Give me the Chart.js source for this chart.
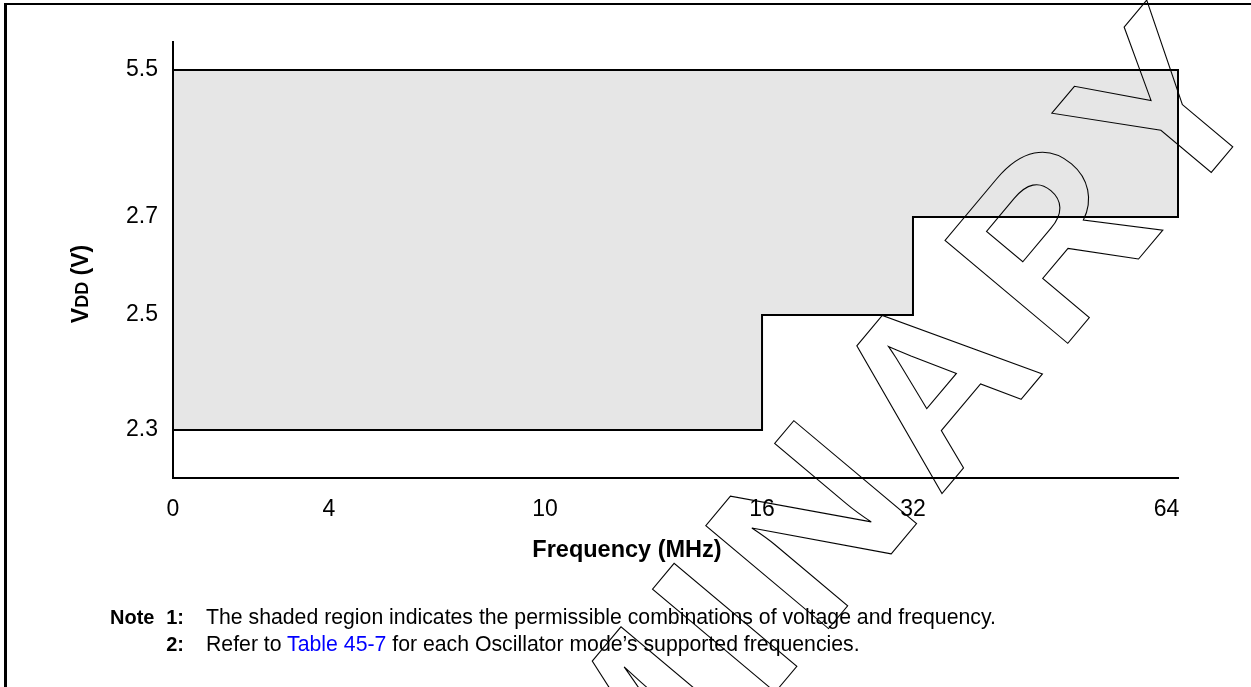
<!DOCTYPE html>
<html><head><meta charset="utf-8">
<script src="https://cdn.jsdelivr.net/npm/chart.js@4.4.1/dist/chart.umd.min.js"></script>
<style>
html,body{margin:0;padding:0;background:#fff;}
#wrap{position:relative;width:1251px;height:687px;overflow:hidden;background:#fff;}
#c{position:absolute;left:0;top:0;}
#frame{position:absolute;left:4px;top:3px;width:1300px;height:800px;border-left:3px solid #000;border-top:2px solid #000;}
.note{position:absolute;font-family:"Liberation Sans",Arial,sans-serif;font-size:20px;line-height:27px;color:#000;white-space:nowrap;}
.txt{font-size:21.25px}
.b{font-weight:bold}
.lnk{color:#0000ff}
#wm{position:absolute;left:0;top:0;pointer-events:none;}
</style></head><body>
<div id="wrap">
<canvas id="c" width="1251" height="687"></canvas>
<div id="frame"></div>
<div class="note b" style="left:110px;top:604px">Note</div>
<div class="note b" style="left:150px;width:34px;text-align:right;top:604px">1:</div>
<div class="note txt" style="left:206px;top:604px">The shaded region indicates the permissible combinations of voltage and frequency.</div>
<div class="note b" style="left:150px;width:34px;text-align:right;top:631px">2:</div>
<div class="note txt" style="left:206px;top:631px">Refer to <span class="lnk">Table 45-7</span> for each Oscillator mode’s supported frequencies.</div>
<svg id="wm" width="1251" height="687"><text transform="translate(130,1461) rotate(-50)" font-family="Liberation Sans, Arial, sans-serif" font-weight="bold" font-size="233" letter-spacing="18" fill="none" stroke="#000" stroke-width="1.1">PRELIMINARY</text></svg>
</div>
<script>
// ---- data ----
const freqTicks = [0, 4, 10, 16, 32, 64];      // MHz tick labels
const vddTicks  = [2.3, 2.5, 2.7, 5.5];        // V tick labels
const bandEdges = [0, 16, 32, 64];             // frequency band edges (MHz)
const vddMin    = [2.3, 2.5, 2.7];             // minimum VDD per band (V)
const vddMax    = 5.5;                         // maximum VDD (V)

// ---- piecewise (schematic) scale ----
class PiecewiseScale extends Chart.LinearScale {
  _frac(v) {
    const b = this.options.breaks;
    let i = 0;
    while (i < b.length - 2 && v > b[i + 1][0]) i++;
    const [v0, f0] = b[i], [v1, f1] = b[i + 1];
    return f0 + (v - v0) / (v1 - v0) * (f1 - f0);
  }
  getPixelForValue(value) {
    if (value === null || isNaN(value)) return NaN;
    return this.getPixelForDecimal(this._frac(value));
  }
  getValueForPixel(pixel) {
    const d = this.getDecimalForPixel(pixel);
    const b = this.options.breaks;
    let i = 0;
    while (i < b.length - 2 && d > b[i + 1][1]) i++;
    const [v0, f0] = b[i], [v1, f1] = b[i + 1];
    return v0 + (d - f0) / (f1 - f0) * (v1 - v0);
  }
}
PiecewiseScale.id = 'piecewise';
PiecewiseScale.defaults = Chart.LinearScale.defaults;
Chart.register(PiecewiseScale);

// ---- build region polygon from data ----
const region = [{x: bandEdges[0], y: vddMax}, {x: bandEdges[bandEdges.length - 1], y: vddMax}];
for (let i = vddMin.length - 1; i >= 0; i--) {
  region.push({x: bandEdges[i + 1], y: vddMin[i]});
  region.push({x: bandEdges[i], y: vddMin[i]});
}
region.push({x: bandEdges[0], y: vddMax});

const tickFont = {family: '"Liberation Sans", Arial, sans-serif', size: 23};

const titles = {
  id: 'titles',
  afterDraw(chart) {
    const ctx = chart.ctx;
    ctx.save();
    ctx.fillStyle = '#000';
    ctx.font = 'bold 23.5px "Liberation Sans", Arial, sans-serif';
    ctx.textAlign = 'center';
    ctx.textBaseline = 'alphabetic';
    ctx.fillText('Frequency (MHz)', 627, 557);
    // Y title with subscript
    ctx.translate(88, 284);
    ctx.rotate(-Math.PI / 2);
    const segs = [['V', 'bold 23px "Liberation Sans", Arial, sans-serif'],
                  ['DD', 'bold 18px "Liberation Sans", Arial, sans-serif'],
                  [' (V)', 'bold 23px "Liberation Sans", Arial, sans-serif']];
    let total = 0;
    segs.forEach(s => { ctx.font = s[1]; total += ctx.measureText(s[0]).width; });
    let x = -total / 2;
    ctx.textAlign = 'left';
    segs.forEach(s => { ctx.font = s[1]; ctx.fillText(s[0], x, 0); x += ctx.measureText(s[0]).width; });
    ctx.restore();
  }
};

new Chart(document.getElementById('c'), {
  type: 'line',
  data: {
    datasets: [{
      data: region,
      fill: 'shape',
      backgroundColor: '#e6e6e6',
      borderColor: '#000',
      borderWidth: 2,
      borderJoinStyle: 'miter',
      pointRadius: 0,
      tension: 0,
      clip: false
    }]
  },
  options: {
    responsive: false,
    animation: false,
    events: [],
    layout: {padding: {left: 0, top: 42, right: 73, bottom: 0}},
    plugins: {legend: {display: false}, tooltip: {enabled: false}, title: {display: false}},
    scales: {
      x: {
        type: 'piecewise',
        min: 0, max: 64,
        breaks: [[0, 0], [4, 0.1552], [10, 0.3701], [16, 0.5861], [32, 0.7363], [64, 1]],
        afterBuildTicks: s => { s.ticks = freqTicks.map(v => ({value: v})); },
        afterFit: s => { s.height = 209; },
        grid: {display: false, drawTicks: false},
        border: {display: true, color: '#000', width: 2},
        ticks: {autoSkip: false, maxRotation: 0, padding: 18, color: '#000', font: tickFont,
                // last label sits flush with the axis end in the reference
                callback: (v, i, arr) => i === arr.length - 1 ? String(v) + '\u2002\u2002' : String(v)},
        title: {display: false}
      },
      y: {
        type: 'piecewise',
        min: 2.1, max: 5.8,
        breaks: [[2.1, 0], [2.3, 0.1101], [2.5, 0.3739], [2.7, 0.5986], [5.5, 0.9358], [5.8, 1]],
        afterBuildTicks: s => { s.ticks = vddTicks.map(v => ({value: v})); },
        afterFit: s => { s.width = 173; },
        grid: {display: false, drawTicks: false},
        border: {display: true, color: '#000', width: 2},
        ticks: {autoSkip: false, padding: 15, color: '#000', font: tickFont,
                callback: v => String(v)},
        title: {display: false}
      }
    }
  },
  plugins: [titles]
});
</script>
</body></html>
